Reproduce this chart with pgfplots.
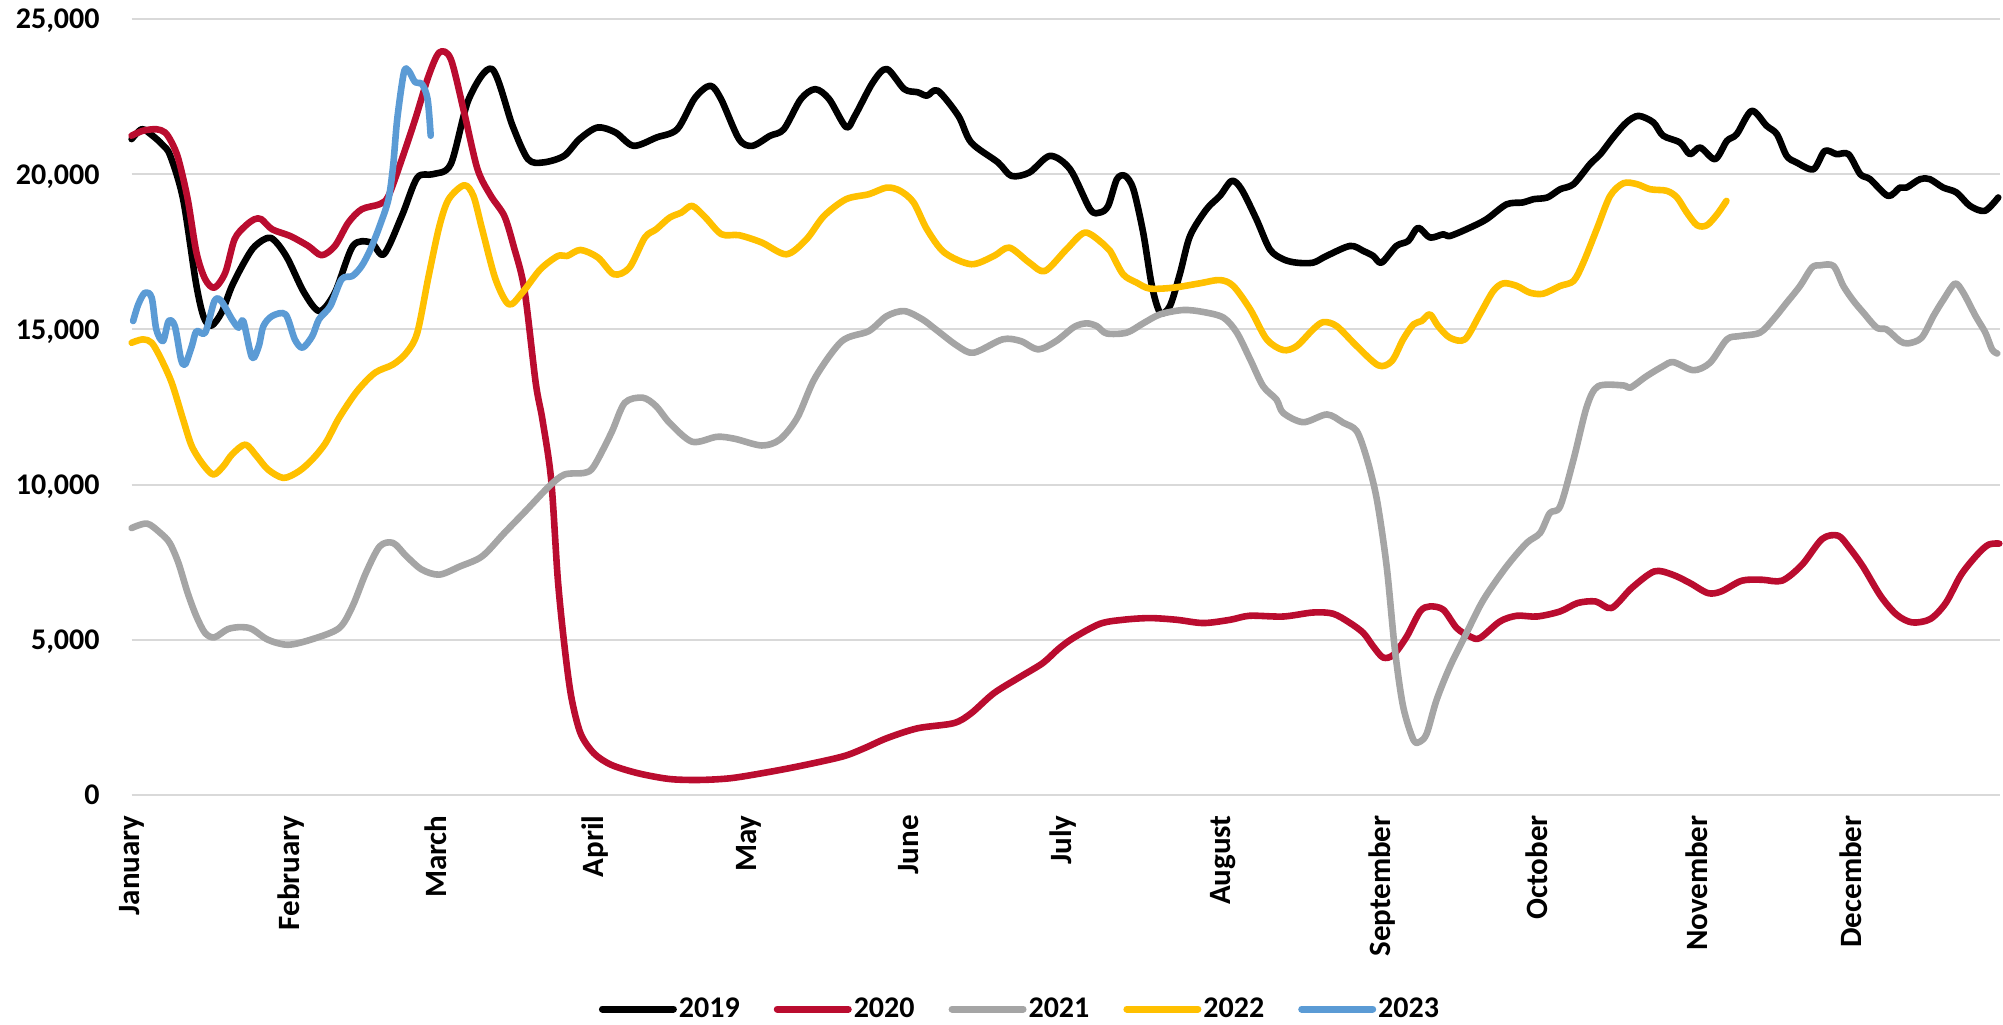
\documentclass[border=0pt]{standalone}
\usepackage{fontspec}
\setmainfont{Carlito}
\usepackage{pgfplots}
\pgfplotsset{compat=1.18}
\definecolor{c2019}{RGB}{0,0,0}
\definecolor{c2020}{RGB}{186,12,47}
\definecolor{c2021}{RGB}{165,165,165}
\definecolor{c2022}{RGB}{255,192,0}
\definecolor{c2023}{RGB}{91,155,213}
\definecolor{gridc}{RGB}{217,217,217}
\newcommand{\lblfont}{\fontsize{15}{18}\selectfont\bfseries}
\newcommand{\monfont}{\fontsize{15.5}{18}\selectfont\bfseries}
\begin{document}
\begin{tikzpicture}
\begin{axis}[
  at={(0,0)}, anchor=south west,
  scale only axis,
  width=934.35pt, height=388pt,
  xmin=1, xmax=364, ymin=0, ymax=25000,
  clip=false,
  axis line style={draw=none},
  tick style={draw=none},
  major tick length=0pt,
  ymajorgrids,
  major grid style={draw=gridc, line width=1pt},
  ytick={0,5000,10000,15000,20000,25000},
  scaled y ticks=false,
  /pgf/number format/assume math mode=true,
  /pgf/number format/1000 sep={,},
  yticklabel style={font=\lblfont, anchor=east, inner sep=0pt, text depth=0pt},
  yticklabel shift=15.8pt,
  xtick={1,32,60,91,121,152,182,213,244,274,305,335},
  xticklabels={January,February,March,April,May,June,July,August,September,October,November,December},
  xticklabel style={font=\monfont, rotate=90, anchor=east, inner sep=0pt},
  xticklabel shift=10pt,
  legend columns=5,
  legend style={draw=none, fill=none, at={(0.4754,-0.2758)}, anchor=center,
    font=\lblfont,
    /tikz/every even column/.append style={column sep=16pt},
    nodes={inner sep=1pt}},
  legend image code/.code={\draw[line width=3.5pt, line cap=round] (0pt,0pt) -- (35.5pt,0pt);},
  every axis plot/.append style={line width=3.3pt, line join=round, line cap=round, smooth, tension=0.5},
]
\addplot[c2019] coordinates {
(1,21130) (3,21450) (5,21250) (7,20950) (8.5,20600) (11,19200) (13.5,16500) (15,15400) (16.5,15120) (18.5,15550)
(20.5,16400) (23,17200) (25,17690) (28,17950) (31,17370) (34.5,16190) (37.5,15590) (40.5,16190) (44,17690) (47.5,17800)
(50,17420) (53.5,18660) (56.5,19890) (59.5,20000) (63,20325) (66.5,22420) (71,23390) (75,21560) (78,20485) (81,20380)
(85,20590) (88,21130) (91.5,21505) (95,21345) (98.5,20915) (103,21185) (107,21450) (110.4,22450) (113.4,22850) (115.5,22420)
(119,21130) (121.6,20915) (125,21236) (127.7,21450) (131,22420) (133.8,22740) (136.5,22420) (139.8,21516) (141.5,21880) (145,22960)
(147.7,23390) (151.1,22740) (153.7,22640) (155.5,22530) (157.6,22690) (161.6,21880) (164.1,21020) (169.3,20380) (171.9,19945) (175.4,20055)
(179.4,20590) (183.3,20160) (187.2,18870) (189.1,18765) (190.7,18980) (192.4,19840) (194,19945) (195.6,19515) (197.5,18120) (199.2,16400)
(200.8,15540) (202.7,15755) (204.7,16830) (206.6,18010) (209.8,18870) (212.4,19300) (214.7,19785) (216.6,19515) (219.5,18550) (222.1,17580)
(224.7,17260) (227.3,17150) (230.5,17150) (233.1,17365) (237.7,17690) (240.3,17525) (242.2,17365) (243.8,17150) (246.7,17690) (249,17850)
(250.9,18275) (253.2,17960) (255.8,18065) (257.1,18010) (261,18280) (264.2,18550) (268.1,19030) (271.3,19090) (273.3,19195) (276,19250)
(278.5,19515) (281.1,19680) (284.3,20325) (286.3,20645) (288.8,21185) (291.4,21670) (293.7,21880) (296.6,21670) (298.5,21240) (301.8,21020)
(303.7,20645) (305.7,20860) (308.6,20485) (310.9,21075) (312.8,21290) (315.7,22040) (318.6,21560) (320.6,21290) (322.5,20590) (324.4,20380)
(327.7,20160) (329.9,20750) (332.2,20645) (334.5,20645) (336.8,20000) (338.7,19840) (342.2,19300) (344.5,19570) (345.8,19570) (348.4,19840)
(350.3,19840) (352.9,19570) (355.5,19410) (358.1,18980) (361,18820) (363.6,19250)
};
\addlegendentry{2019}
\addplot[c2020] coordinates {
(1,21240) (3.2,21400) (5.8,21450) (7.5,21345) (8.8,21020) (10.1,20485) (11.9,19195) (13.6,17475) (15.3,16615) (17.1,16345)
(19.2,16830) (21,17905) (23.1,18335) (24.9,18550) (26.2,18550) (28.3,18225) (31.8,18010) (35.3,17690) (37.9,17390) (40.5,17690)
(43.1,18440) (45.7,18870) (49.2,19035) (50.9,19300) (53.5,20485) (56.1,21775) (58.7,23170) (60.8,23925) (63,23710) (65.6,21990)
(68.2,20160) (70.8,19300) (73.4,18655) (75.2,17690) (77.3,16290) (79.5,13280) (80.8,12100) (82.5,10160) (83.8,6935) (85.1,4785)
(86.4,3170) (88.2,1990) (90.8,1345) (94.2,970) (99.4,700) (105.5,515) (111.4,485) (117.3,540) (123.4,700) (130.3,915)
(139,1235) (143.3,1505) (147.7,1830) (153.7,2150) (160.7,2315) (164.1,2635) (168.5,3280) (173.7,3815) (178,4250) (181,4700)
(183.9,5055) (189.1,5515) (193.6,5645) (198.8,5700) (204,5645) (209.2,5540) (214.4,5645) (218.2,5775) (224.7,5750) (230.5,5880)
(234.4,5840) (237.7,5540) (240.3,5215) (242.2,4785) (244.1,4430) (246.1,4515) (248.7,5105) (251.3,5915) (253.2,6075) (255.8,5970)
(258.4,5380) (261,5105) (262.9,5055) (266.8,5590) (270.1,5775) (274,5750) (278.5,5915) (281.9,6185) (285.4,6235) (288.5,6025)
(292.4,6670) (296.8,7205) (300.3,7100) (303.7,6830) (307.2,6505) (309.8,6560) (313.8,6905) (317.7,6935) (321.6,6905) (325.5,7420)
(329.4,8250) (332.5,8355) (334.7,7960) (337.3,7365) (340.8,6400) (343.9,5805) (346.9,5560) (350.4,5670) (353.4,6185) (356.4,7100)
(359.5,7740) (361.7,8065) (363.8,8100)
};
\addlegendentry{2020}
\addplot[c2021] coordinates {
(1,8600) (4,8745) (6.6,8440) (8.4,8120) (10.1,7475) (11.9,6505) (13.6,5750) (15.3,5215) (17.1,5080) (19.7,5345)
(22.3,5410) (24.4,5345) (27.5,5000) (31.4,4840) (36.1,5020) (41.3,5375) (43.9,6075) (46.5,7150) (49.2,8010) (51.8,8120)
(54.4,7690) (57.4,7260) (60.8,7100) (64.8,7365) (69.1,7690) (73.4,8440) (77.8,9195) (82.1,9945) (85.1,10325) (89,10380)
(90.8,10590) (94.2,11670) (96.8,12635) (100.3,12800) (102.9,12525) (105.5,11990) (109.9,11380) (114.7,11540) (118.2,11475) (123.4,11260)
(126.9,11450) (130.3,12150) (133.8,13450) (139,14625) (144.2,14945) (147.7,15430) (151.1,15590) (154.6,15325) (157.2,15000) (161.5,14460)
(164.6,14250) (170.2,14680) (173.7,14625) (177.1,14355) (180.6,14625) (184.1,15080) (186.5,15195) (188.5,15105) (190.4,14870) (194.3,14895)
(197.5,15195) (200.8,15485) (205.3,15625) (209.2,15560) (213.1,15380) (215.7,14895) (218.3,14030) (220.8,13170) (223.4,12740) (224.7,12310)
(228.6,12010) (233.2,12260) (236.4,11990) (239,11720) (241,10810) (242.9,9515) (244.8,7365) (246.4,4680) (248,2850) (250,1775)
(251.3,1720) (252.6,1990) (254.5,3065) (257.1,4140) (260.3,5215) (263.6,6290) (268.1,7365) (272,8120) (274.6,8440) (276.5,9085)
(278.5,9300) (281.1,10810) (283.7,12525) (285.9,13170) (290.8,13195) (292.1,13120) (295.3,13495) (298.5,13815) (300.5,13945) (304.4,13685)
(307.6,13925) (310.9,14680) (313.4,14785) (317.3,14895) (319.9,15325) (322.5,15860) (325.1,16400) (327.4,16990) (329,17065) (331.6,17045)
(333.5,16400) (335.5,15915) (337.4,15540) (340,15055) (341.9,15000) (344.5,14625) (346.1,14550) (348.7,14730) (351,15430) (353,15970)
(355.2,16475) (356.8,16185) (359.2,15430) (361.1,14895) (362.4,14355) (363.4,14225)
};
\addlegendentry{2021}
\addplot[c2022] coordinates {
(1,14570) (3.2,14680) (4.9,14570) (6.6,14090) (8.8,13280) (11,12100) (12.7,11235) (14.9,10645) (16.9,10325) (18.8,10590)
(20.5,10970) (23.1,11290) (25.3,10915) (27.5,10485) (30.5,10215) (33.5,10430) (36.1,10810) (38.7,11345) (41.3,12150) (44.8,13010)
(48.3,13605) (51.8,13870) (54.4,14250) (56.5,14895) (58.7,16720) (60.8,18335) (62.6,19195) (65.6,19645) (67.4,19300) (69.1,18225)
(71.7,16615) (74.3,15805) (76.9,16185) (80.4,16935) (83.8,17365) (85.6,17365) (88.2,17560) (91.6,17315) (94.7,16775) (97.7,16990)
(100.7,17960) (102.9,18225) (105.5,18600) (107.8,18765) (109.9,18980) (112.5,18600) (115.6,18065) (119,18035) (123.4,17800) (128.2,17420)
(132.1,17905) (135.5,18655) (139.8,19195) (144.2,19355) (147.7,19570) (150.3,19465) (152.9,19090) (155.5,18225) (158.9,17475) (164.1,17100)
(168.5,17365) (171.5,17635) (175.4,17150) (178.4,16880) (182.6,17580) (186.2,18120) (189.8,17745) (191.1,17525) (193.6,16775) (196.2,16510)
(198.8,16315) (203.4,16345) (208.5,16485) (212.4,16590) (215,16400) (218.3,15645) (221.5,14680) (224.7,14335) (227.3,14460) (230.5,15000)
(232.5,15235) (235.1,15105) (239,14460) (243.2,13840) (245.8,13980) (248,14680) (250,15160) (251.6,15270) (253.2,15485) (254.8,15105)
(257.1,14730) (260,14680) (262.9,15485) (265.5,16235) (267.5,16485) (270.1,16400) (272.6,16185) (275.2,16150) (278.5,16400) (281.1,16560)
(283,17150) (285.6,18225) (288.2,19300) (290.8,19710) (293.4,19680) (296,19515) (299.2,19465) (301.2,19250) (303.1,18765) (305.1,18355)
(307,18355) (309,18710) (310.8,19140)
};
\addlegendentry{2022}
\addplot[c2023] coordinates {
(1.3,15270) (2.3,15805) (3.6,16185) (4.9,16025) (5.8,15000) (7.1,14625) (8.2,15270) (9.4,15105) (10.6,14035) (11.4,13870)
(12.7,14460) (13.6,14945) (15.3,14895) (17.1,15915) (18.4,15915) (20.5,15325) (21.8,15055) (22.7,15270) (24.4,14090) (25.7,14460)
(26.6,15105) (28.3,15430) (30.9,15485) (32.7,14680) (34.2,14410) (36.1,14785) (37.4,15325) (39.6,15750) (41.8,16615) (43.9,16720)
(45.7,17045) (47.4,17580) (49.2,18335) (50.9,19195) (51.8,20270) (52.6,21775) (53.9,23280) (54.8,23335) (56.1,22960) (57.4,22905)
(58.5,22420) (59.1,21240)
};
\addlegendentry{2023}
\end{axis}
\pgfresetboundingbox
\path[use as bounding box] (-65.8pt,-114.5pt) rectangle (935.7pt,397.5pt);
\end{tikzpicture}
\end{document}
